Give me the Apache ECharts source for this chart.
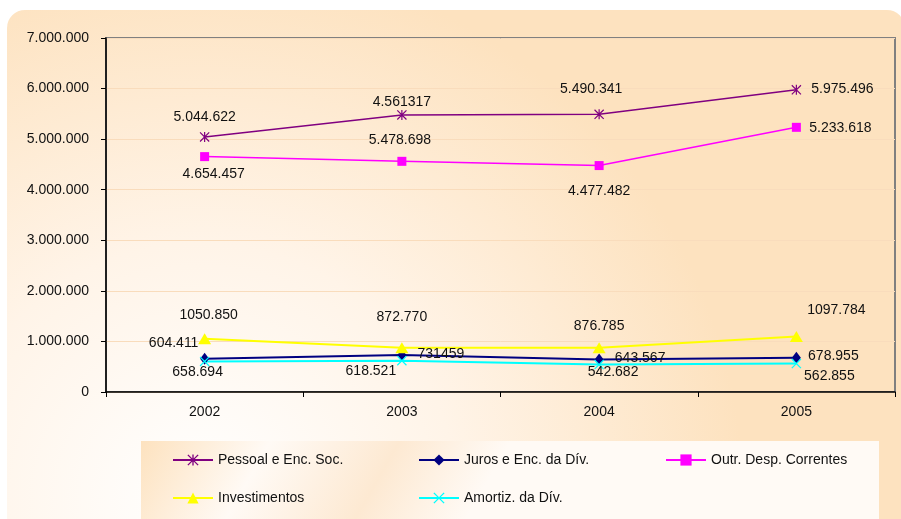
<!DOCTYPE html>
<html>
<head>
<meta charset="utf-8">
<script src="https://cdn.jsdelivr.net/npm/echarts@6/dist/echarts.min.js"></script>
<style>
  html, body { margin: 0; padding: 0; background: #fff; }
  #chart { width: 901px; height: 519px; }
</style>
</head>
<body>
<div id="chart"></div>
<script>
// anos
const years = ['2002', '2003', '2004', '2005']

// valores por série
const pessoal = [5044622, 5478698, 5490341, 5975496]
const juros = [658694, 731459, 643567, 678955]
const outrDesp = [4654457, 4561317, 4477482, 5233618]
const investimentos = [1050850, 872770, 876785, 1097784]
const amortiz = [604411, 618521, 542682, 562855]

// rótulos como aparecem no gráfico original
const pessoalLabels = ['5.044.622', '4.561317', '5.490.341', '5.975.496']
const jurosLabels = ['604.411', '731459', '643.567', '678.955']
const outrLabels = ['4.654.457', '5.478.698', '4.477.482', '5.233.618']
const investLabels = ['1050.850', '872.770', '876.785', '1097.784']
const amortizLabels = ['658.694', '618.521', '542.682', '562.855']

const yTicks = [0, 1000000, 2000000, 3000000, 4000000, 5000000, 6000000, 7000000]

const chart = echarts.init(document.getElementById('chart'))

const FONT = '"Liberation Sans", Arial, sans-serif'
const PEACH = '#fde2bf'

// símbolos desenhados (asterisco e X)
const STAR = 'path://M8.8,0L11.2,0L11.2,20L8.8,20Z M1.7,0L20,18.3L18.3,20L0,1.7Z M18.3,0L20,1.7L1.7,20L0,18.3Z'
const CROSS = 'path://M1.7,0L20,18.3L18.3,20L0,1.7Z M18.3,0L20,1.7L1.7,20L0,18.3Z'

const fmt = (v) => String(v).replace(/\B(?=(\d{3})+(?!\d))/g, '.')

// deslocamento de cada rótulo em relação ao ponto
const offsets = {
  pessoal: [[0, -20], [0, -13], [-8, -25], [46, -1]],
  juros: [[-31, -16], [39, -1], [41, -1], [37, -2]],
  outr: [[9, 18], [-2, -21], [0, 26], [44, 1]],
  invest: [[4, -24], [0, -31], [0, -22], [40, -26]],
  amortiz: [[-7, 11], [-31, 10], [14, 8], [33, 13]]
}

const buildData = (values, labels, offs) =>
  values.map((v, i) => ({ value: v, label: { formatter: labels[i], offset: offs[i] } }))

const makeSeries = (name, values, labels, offs, color, symbol, size, width) => ({
  name,
  type: 'line',
  data: buildData(values, labels, offs),
  symbol,
  symbolSize: size,
  showAllSymbol: true,
  lineStyle: { color, width },
  itemStyle: { color },
  label: {
    show: true,
    position: 'inside',
    align: 'center',
    verticalAlign: 'middle',
    color: '#111',
    fontSize: 14,
    fontFamily: FONT
  },
  emphasis: { disabled: true },
  animation: false
})

const legendAt = (name, left, top) => ({
  data: [name],
  left,
  top,
  padding: 0,
  itemWidth: 40,
  itemHeight: 14,
  textStyle: { fontSize: 14, fontFamily: FONT, color: '#111' },
  selectedMode: false
})

const option = {
  animation: false,
  graphic: [
    {
      type: 'rect',
      z: -20,
      shape: { x: 7, y: 10, width: 898, height: 530, r: 18 },
      style: {
        fill: new echarts.graphic.RadialGradient(200, 500, 640, [
          { offset: 0, color: '#ffffff' },
          { offset: 0.4, color: '#fff4e8' },
          { offset: 0.85, color: PEACH },
          { offset: 1, color: PEACH }
        ], true)
      },
      silent: true
    },
    {
      type: 'rect',
      z: -10,
      shape: { x: 141, y: 441, width: 738, height: 90 },
      style: {
        fill: new echarts.graphic.LinearGradient(141, 441, 420, 600, [
          { offset: 0, color: PEACH },
          { offset: 0.35, color: '#fffaf5' },
          { offset: 0.7, color: '#fde9d2' },
          { offset: 1, color: '#fffaf5' }
        ], true)
      },
      silent: true
    }
  ],
  grid: {
    left: 106,
    right: 6,
    top: 38,
    bottom: 127,
    show: true,
    borderColor: '#808080',
    borderWidth: 2,
    backgroundColor: 'transparent'
  },
  legend: [
    legendAt('Pessoal e Enc. Soc.', 172, 453),
    legendAt('Juros e Enc. da Dív.', 418, 453),
    legendAt('Outr. Desp. Correntes', 665, 453),
    legendAt('Investimentos', 172, 491),
    legendAt('Amortiz. da Dív.', 418, 491)
  ],
  xAxis: {
    type: 'category',
    data: years,
    boundaryGap: true,
    axisLine: { show: true, lineStyle: { color: '#000', width: 1.5 } },
    axisTick: { show: true, length: 5, lineStyle: { color: '#000' } },
    axisLabel: { margin: 13, fontSize: 14, fontFamily: FONT, color: '#111' },
    splitLine: { show: false }
  },
  yAxis: {
    type: 'value',
    min: yTicks[0],
    max: yTicks[yTicks.length - 1],
    interval: yTicks[1] - yTicks[0],
    axisLine: { show: true, lineStyle: { color: '#000', width: 1.5 } },
    axisTick: { show: true, length: 5, lineStyle: { color: '#000' } },
    axisLabel: { margin: 17, fontSize: 14, fontFamily: FONT, color: '#111', formatter: fmt },
    splitLine: { show: true, lineStyle: { color: '#f9dcbc', width: 1 } }
  },
  series: [
    makeSeries('Pessoal e Enc. Soc.', pessoal, pessoalLabels, offsets.pessoal, '#800080', STAR, 10, 1.5),
    makeSeries('Juros e Enc. da Dív.', juros, jurosLabels, offsets.juros, '#000080', 'diamond', [9, 12], 2),
    makeSeries('Outr. Desp. Correntes', outrDesp, outrLabels, offsets.outr, '#ff00ff', 'rect', 9, 1.5),
    makeSeries('Investimentos', investimentos, investLabels, offsets.invest, '#ffff00', 'triangle', [13, 11], 2),
    makeSeries('Amortiz. da Dív.', amortiz, amortizLabels, offsets.amortiz, '#00ffff', CROSS, 10, 2)
  ]
}

chart.setOption(option)
</script>
</body>
</html>
